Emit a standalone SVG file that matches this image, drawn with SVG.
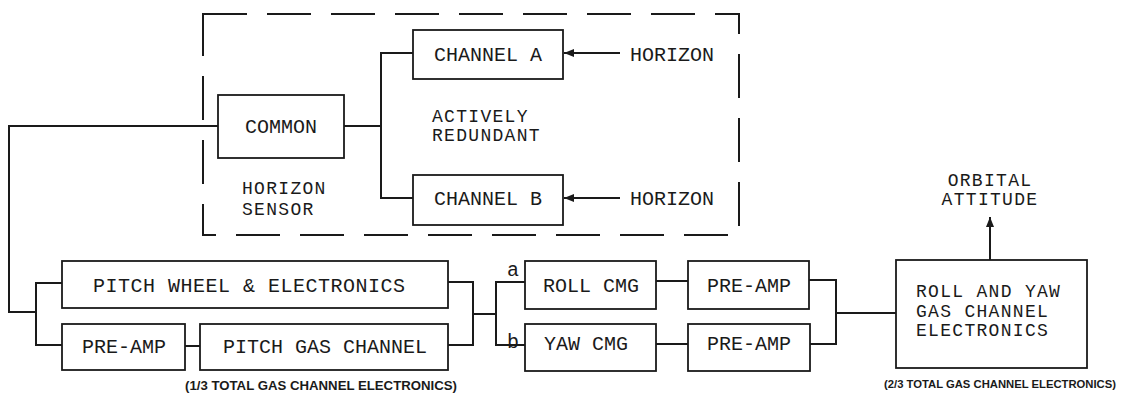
<svg xmlns="http://www.w3.org/2000/svg" width="1123" height="393" viewBox="0 0 1123 393">
<style>
.bg{fill:#fff}
.box{fill:none;stroke:#1a1a1a;stroke-width:1.8}
.ln{fill:none;stroke:#1a1a1a;stroke-width:2}
.dash{fill:none;stroke:#1a1a1a;stroke-width:2;stroke-dasharray:44 20}
.t{font-family:"Liberation Mono","DejaVu Sans Mono",monospace;font-size:20px;fill:#1a1a1a}
.m{font-family:"Liberation Mono","DejaVu Sans Mono",monospace;font-size:18px;letter-spacing:1.3px;fill:#1a1a1a}
.c{font-family:"Liberation Sans",Arial,sans-serif;font-size:13px;font-weight:bold;fill:#1a1a1a}
.c2{font-family:"Liberation Sans",Arial,sans-serif;font-size:10.5px;font-weight:bold;fill:#1a1a1a}
</style>
<defs>
<marker id="ah" viewBox="0 0 10 10" refX="10" refY="5" markerWidth="10" markerHeight="10" markerUnits="userSpaceOnUse" orient="auto">
<path d="M0,1 L10,5 L0,9 Z" fill="#1a1a1a"/>
</marker>
</defs>
<rect class="bg" width="1123" height="393"/>
<g id="sensor-boundary">
<path class="dash" d="M203,14 H739 V235 H203 Z"/>
<text class="m" x="242" y="194">HORIZON</text>
<text class="m" x="242" y="215">SENSOR</text>
<text class="m" x="432" y="122">ACTIVELY</text>
<text class="m" x="432" y="141">REDUNDANT</text>
</g>
<g id="common">
<rect class="box" x="218" y="95" width="126" height="63"/>
<text class="t" x="281" y="133" text-anchor="middle">COMMON</text>
</g>
<g id="channel-a">
<rect class="box" x="413" y="30" width="150" height="49"/>
<text class="t" x="488" y="61" text-anchor="middle">CHANNEL A</text>
</g>
<g id="channel-b">
<rect class="box" x="413" y="175" width="150" height="50"/>
<text class="t" x="488" y="205" text-anchor="middle">CHANNEL B</text>
</g>
<g id="horizon-a">
<text class="t" x="630" y="61">HORIZON</text>
</g>
<g id="horizon-b">
<text class="t" x="630" y="205">HORIZON</text>
</g>
<g id="pitch-wheel">
<rect class="box" x="62" y="261" width="386" height="47"/>
<text class="t" x="93" y="292" textLength="312">PITCH WHEEL &amp; ELECTRONICS</text>
</g>
<g id="pre-amp-pitch">
<rect class="box" x="62" y="324" width="123" height="46"/>
<text class="t" x="124" y="353" text-anchor="middle">PRE-AMP</text>
</g>
<g id="pitch-gas">
<rect class="box" x="200" y="324" width="248" height="46"/>
<text class="t" x="325" y="353" text-anchor="middle">PITCH GAS CHANNEL</text>
<text class="c" x="185" y="390" textLength="272" lengthAdjust="spacingAndGlyphs">(1/3 TOTAL GAS CHANNEL ELECTRONICS)</text>
</g>
<g id="roll-cmg">
<rect class="box" x="525" y="261" width="131" height="48"/>
<text class="t" x="591" y="292" text-anchor="middle">ROLL CMG</text>
</g>
<g id="yaw-cmg">
<rect class="box" x="525" y="324" width="131" height="47"/>
<text class="t" x="586" y="350" text-anchor="middle">YAW CMG</text>
</g>
<g id="pre-amp-roll">
<rect class="box" x="688" y="261" width="121" height="48"/>
<text class="t" x="749" y="292" text-anchor="middle">PRE-AMP</text>
</g>
<g id="pre-amp-yaw">
<rect class="box" x="688" y="324" width="122" height="47"/>
<text class="t" x="749" y="350" text-anchor="middle">PRE-AMP</text>
</g>
<g id="roll-yaw-gas">
<rect class="box" x="896" y="260" width="191" height="108"/>
<text class="m" x="916" y="297">ROLL AND YAW</text>
<text class="m" x="916" y="317">GAS CHANNEL</text>
<text class="m" x="916" y="336">ELECTRONICS</text>
<text class="c2" x="884" y="388" textLength="232" lengthAdjust="spacingAndGlyphs">(2/3 TOTAL GAS CHANNEL ELECTRONICS)</text>
</g>
<g id="orbital-attitude">
<text class="m" x="990" y="186" text-anchor="middle">ORBITAL</text>
<text class="m" x="990" y="205" text-anchor="middle">ATTITUDE</text>
</g>
<g id="connectors">
<path class="ln" d="M218,126 H9 V312 H36"/>
<path class="ln" d="M62,283 H36 V345 H62"/>
<path class="ln" d="M185,346 H200"/>
<path class="ln" d="M448,282 H473 V345 H448"/>
<path class="ln" d="M473,314 H496"/>
<path class="ln" d="M525,282 H496 V345 H525"/>
<text class="t" x="507" y="276">a</text>
<text class="t" x="507" y="348">b</text>
<path class="ln" d="M656,281 H688"/>
<path class="ln" d="M656,344 H688"/>
<path class="ln" d="M809,280 H836 V344 H810"/>
<path class="ln" d="M836,313 H896"/>
<path class="ln" d="M990,260 V217" marker-end="url(#ah)"/>
<path class="ln" d="M344,126 H381"/>
<path class="ln" d="M413,53 H381 V198 H413"/>
<path class="ln" d="M620,53 H564" marker-end="url(#ah)"/>
<path class="ln" d="M620,198 H564" marker-end="url(#ah)"/>
</g>
</svg>
